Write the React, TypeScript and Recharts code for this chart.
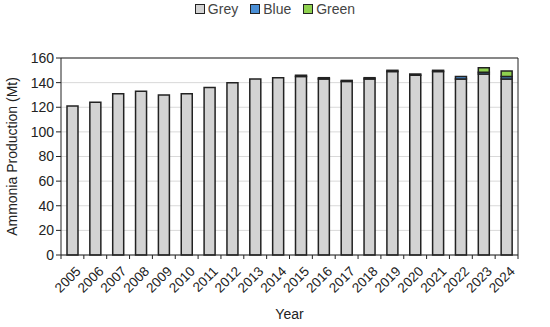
import React from 'react';
import { BarChart, Bar, XAxis, YAxis, CartesianGrid, Legend, ReferenceLine } from 'recharts';

const years = ['2005','2006','2007','2008','2009','2010','2011','2012','2013','2014','2015','2016','2017','2018','2019','2020','2021','2022','2023','2024'];
const grey = [121,124,131,133,130,131,136,140,143,144,145,143,141,143,149,146,149,143,147,143];
const blue = [0,0,0,0,0,0,0,0,0,0,1,1,0.8,1,1,1,1,2,1.5,2];
const green = [0,0,0,0,0,0,0,0,0,0,0,0,0,0,0,0,0,0,3.5,4.5];
const yTicks = [0,20,40,60,80,100,120,140,160];
const seriesNames = ['Grey', 'Blue', 'Green'];
const seriesColors = ['#d3d3d3', '#4a8fd6', '#8fd14f'];

const data = years.map((y, i) => ({ year: y, Grey: grey[i], Blue: blue[i], Green: green[i] }));

const FONT = '"Liberation Sans", Arial, sans-serif';
const PLOT_W = 550 - 61 - 32;
const STEP = PLOT_W / years.length;

const XTick = (props: any) => {
  const { x, y, payload, index } = props;
  return (
    <g>
      <line x1={x - STEP / 2} x2={x - STEP / 2} y1={y - 8} y2={y - 4} stroke="#222" />
      {index === years.length - 1 && <line x1={x + STEP / 2} x2={x + STEP / 2} y1={y - 8} y2={y - 4} stroke="#222" />}
      <text x={x + 6} y={y + 6} transform={`rotate(-45, ${x + 6}, ${y + 6})`} textAnchor="end" dominantBaseline="central" fontSize={13.5} fill="#222" fontFamily={FONT}>
        {payload.value}
      </text>
    </g>
  );
};

const LegendContent = () => (
  <div style={{ display: 'flex', justifyContent: 'center', gap: 12, fontSize: 14, fontFamily: FONT, color: '#444' }}>
    {seriesNames.map((n, i) => (
      <span key={n} style={{ display: 'flex', alignItems: 'center' }}>
        <span style={{ display: 'inline-block', width: 8, height: 8, background: seriesColors[i], border: '1.5px solid #222', marginRight: 3 }} />
        {n}
      </span>
    ))}
  </div>
);

export default function App() {
  return (
    <div style={{ position: 'absolute', left: 0, top: 0, width: 550, height: 327, background: '#fff' }}>
      <BarChart width={550} height={327} data={data} margin={{ top: 42, right: 31, bottom: 0, left: 16 }}>
        <CartesianGrid vertical={false} stroke="#d9d9d9" />
        <XAxis dataKey="year" interval={0} tickLine={false} axisLine={{ stroke: '#222' }} height={72} tick={<XTick />}
          label={{ value: 'Year', position: 'insideBottom', offset: 8, fontSize: 14, fill: '#222', fontFamily: FONT }} />
        <YAxis domain={[0, 160]} ticks={yTicks} width={45} tickSize={5} tickLine={{ stroke: '#222' }} axisLine={{ stroke: '#222' }}
          tick={{ fontSize: 14, fill: '#222', fontFamily: FONT }}
          label={{ value: 'Ammonia Production (Mt)', angle: -90, position: 'insideLeft', offset: -4, style: { textAnchor: 'middle' }, fontSize: 14, fill: '#222', fontFamily: FONT }} />
        <YAxis yAxisId="r" orientation="right" domain={[0, 160]} width={1} tick={false} tickLine={false} axisLine={{ stroke: '#222' }} />
        <ReferenceLine y={160} stroke="#222" />
        <Legend verticalAlign="top" align="center" content={<LegendContent />}
          wrapperStyle={{ top: 1, left: 0, width: 550 }} />
        <Bar dataKey="Grey" stackId="a" barSize={11} fill={seriesColors[0]} stroke="#222" strokeWidth={1.5} isAnimationActive={false} />
        <Bar dataKey="Blue" stackId="a" barSize={11} fill={seriesColors[1]} stroke="#222" strokeWidth={1.5} isAnimationActive={false} />
        <Bar dataKey="Green" stackId="a" barSize={11} fill={seriesColors[2]} stroke="#222" strokeWidth={1.5} isAnimationActive={false} />
      </BarChart>
    </div>
  );
}
